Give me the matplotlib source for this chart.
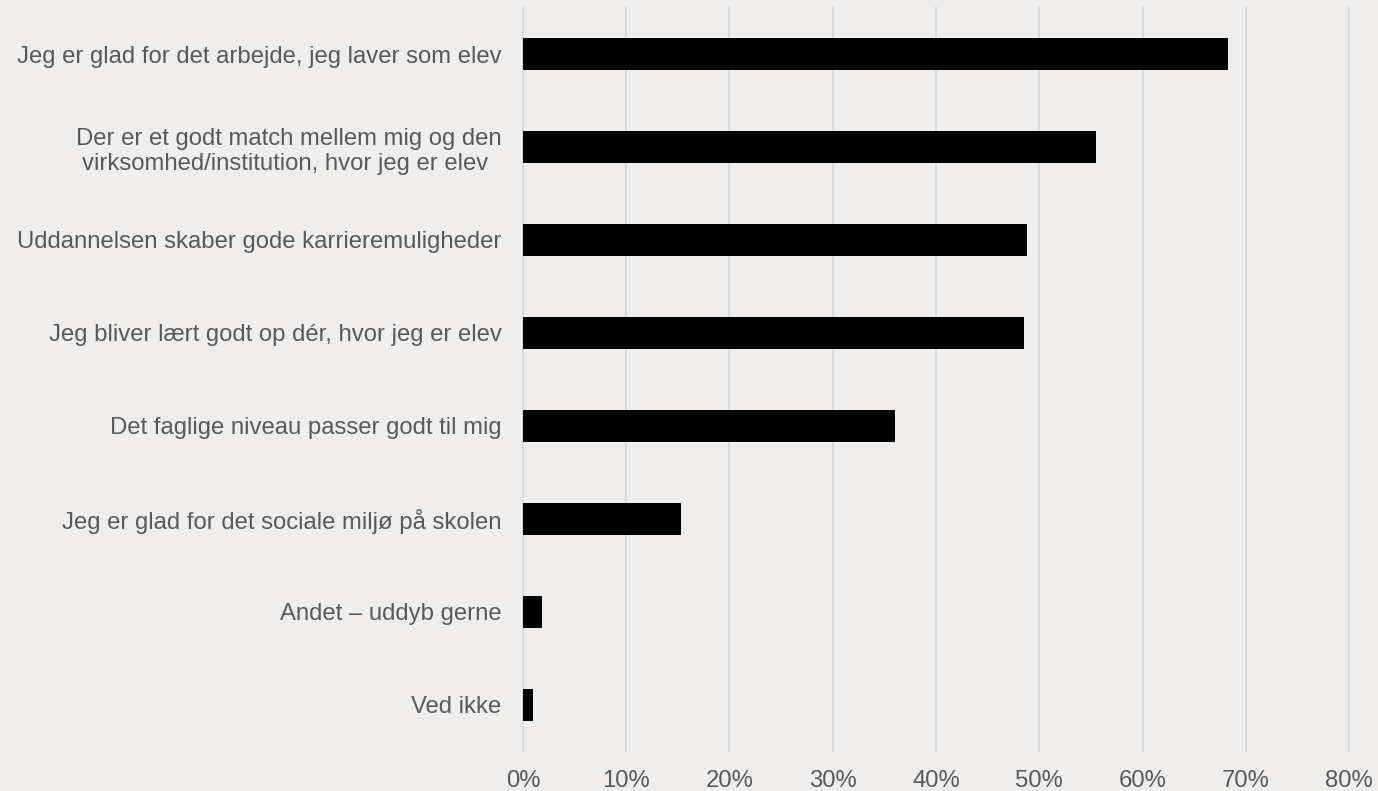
import matplotlib
matplotlib.use("Agg")
import matplotlib.pyplot as plt
from matplotlib.ticker import FuncFormatter, MultipleLocator

categories = [
    "Jeg er glad for det arbejde, jeg laver som elev",
    "Der er et godt match mellem mig og den\nvirksomhed/institution, hvor jeg er elev ",
    "Uddannelsen skaber gode karrieremuligheder",
    "Jeg bliver lært godt op dér, hvor jeg er elev",
    "Det faglige niveau passer godt til mig",
    "Jeg er glad for det sociale miljø på skolen",
    "Andet – uddyb gerne",
    "Ved ikke",
]
values = [0.683, 0.555, 0.488, 0.485, 0.360, 0.153, 0.018, 0.010]

bg = "#EFEEEC"
text_color = "#595959"
grid_color = "#D9D9D9"

plt.rcParams['font.family'] = ['Liberation Sans', 'DejaVu Sans']

fig = plt.figure(figsize=(13.78, 7.91), dpi=100, facecolor=bg)
ax = fig.add_axes([0.3795, 0.05, 0.5995, 0.9405])
ax.set_facecolor(bg)

ypos = list(range(len(categories)))
ax.barh(ypos, values, height=0.345, color="black", edgecolor="none", zorder=3)

ax.set_xlim(0, 0.8)
ax.set_ylim(len(categories) - 0.5, -0.5)
ax.xaxis.set_major_locator(MultipleLocator(0.1))
ax.xaxis.set_major_formatter(FuncFormatter(lambda v, p: f"{v*100:.0f}%"))
ax.set_yticks(ypos)
ax.set_yticklabels(categories, multialignment='center', linespacing=1.2)

ax.grid(axis='x', color=grid_color, linewidth=1.5, zorder=0)
ax.grid(axis='y', visible=False)
for s in ['top', 'right', 'bottom', 'left']:
    ax.spines[s].set_visible(False)

ax.tick_params(axis='x', length=0, pad=13.5, labelsize=17.2, labelcolor=text_color)
ax.tick_params(axis='y', length=0, pad=15.5, labelsize=17.2, labelcolor=text_color)

fig.canvas.draw()
for gl in ax.xaxis.get_gridlines():
    gl.set_clip_on(False)

fig.savefig("out.png", dpi=100, facecolor=bg)
